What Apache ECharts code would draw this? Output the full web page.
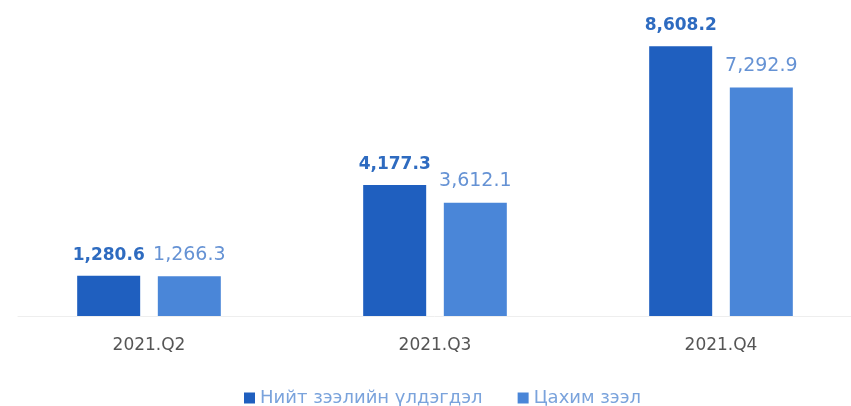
<!DOCTYPE html>
<html><head><meta charset="utf-8">
<script src="https://cdn.jsdelivr.net/npm/echarts@6/dist/echarts.min.js"></script>
<style>html,body{margin:0;padding:0;background:#fff}#c{width:851px;height:406px}</style>
</head><body><div id="c"></div>
<script>
const categories = ['2021.Q2', '2021.Q3', '2021.Q4'];
const totalLoans = [1280.6, 4177.3, 8608.2];
const digitalLoans = [1266.3, 3612.1, 7292.9];
const seriesNames = ['Нийт зээлийн үлдэгдэл', 'Цахим зээл'];

const fmt = v => v.toLocaleString('en-US', {minimumFractionDigits: 1, maximumFractionDigits: 1});
const chart = echarts.init(document.getElementById('c'));
chart.setOption({
  animation: false,
  textStyle: {fontFamily: 'DejaVu Sans, sans-serif'},
  grid: [
    {left: 149, right: 130, top: 34, bottom: 90},
    {left: 18, right: 0, top: 34, bottom: 90}
  ],
  legend: {
    data: seriesNames, bottom: -6, left: 239, itemWidth: 11, itemHeight: 11, itemGap: 35,
    icon: 'rect',
    textStyle: {color: '#7aa3dc', fontSize: 18}
  },
  xAxis: [
    {
      type: 'category', data: categories, gridIndex: 0, boundaryGap: false,
      axisLine: {show: false}, axisTick: {show: false},
      axisLabel: {color: '#555', fontSize: 17, margin: 21}
    },
    {
      type: 'value', gridIndex: 1, show: true, min: 0, max: 1,
      axisLine: {show: true, lineStyle: {color: '#eeeeee'}}, axisTick: {show: false},
      axisLabel: {show: false}, splitLine: {show: false}
    }
  ],
  yAxis: [
    {type: 'value', gridIndex: 0, min: 0, max: 9000, show: false, splitLine: {show: false}},
    {type: 'value', gridIndex: 1, min: 0, max: 1, show: false, splitLine: {show: false}}
  ],
  series: [
    {name: seriesNames[0], type: 'bar', data: totalLoans, barWidth: 63, barGap: '28%',
     itemStyle: {color: '#1f5fbf'},
     label: {show: true, position: 'top', distance: 12, color: '#2e6bc0', fontSize: 17, fontWeight: 'bold', formatter: p => fmt(p.value)}},
    {name: seriesNames[1], type: 'bar', data: digitalLoans, barWidth: 63,
     itemStyle: {color: '#4a86d8'},
     label: {show: true, position: 'top', distance: 12, color: '#6592d4', fontSize: 19, formatter: p => fmt(p.value)}}
  ]
});
</script></body></html>
